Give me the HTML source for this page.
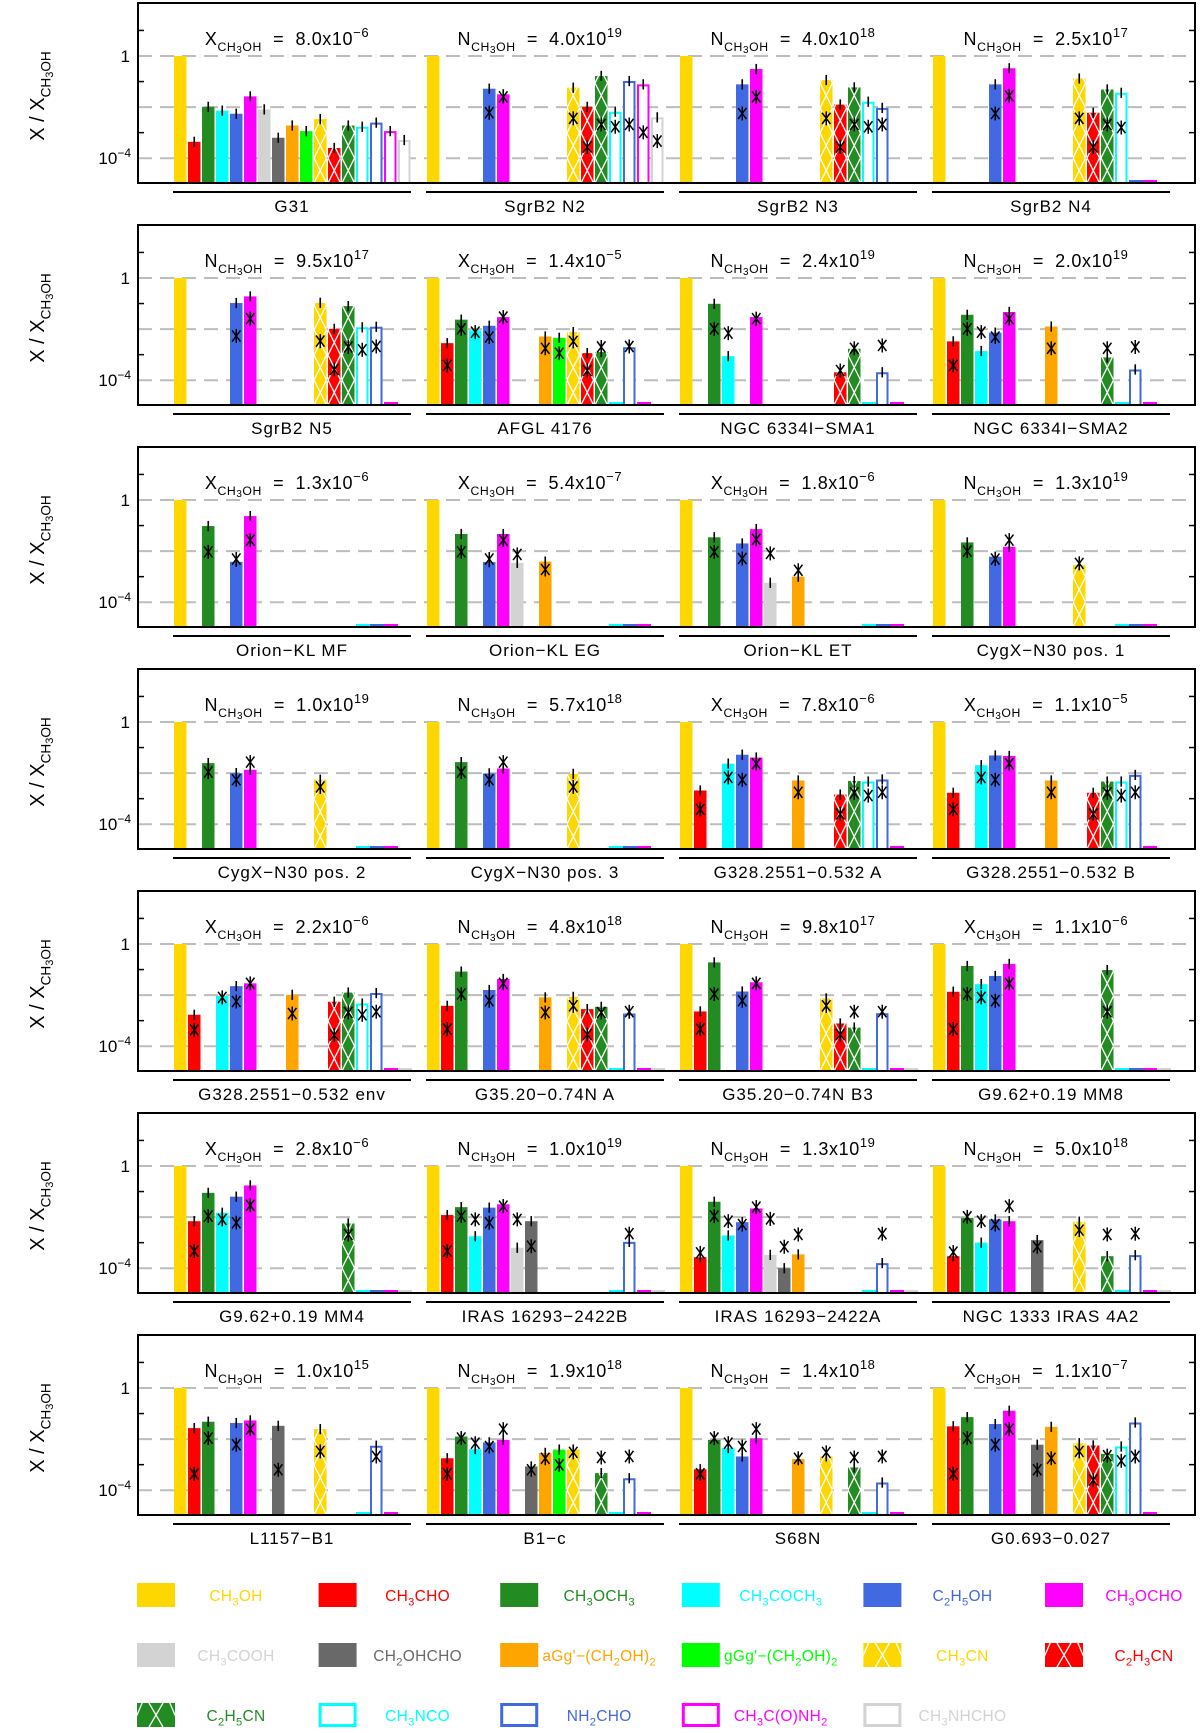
<!DOCTYPE html>
<html><head><meta charset="utf-8"><title>COM abundance ratios</title>
<style>
html,body{margin:0;padding:0;background:#fff;}
svg{display:block;font-family:"Liberation Sans",sans-serif;}
</style></head>
<body>
<svg id="chart" width="1200" height="1733" viewBox="0 0 1200 1733" xmlns="http://www.w3.org/2000/svg"></svg>
<script>
const N = null;
const species = ["CH_3OH","CH_3CHO","CH_3OCH_3","CH_3COCH_3","C_2H_5OH","CH_3OCHO","CH_3COOH","CH_2OHCHO","aGg'\u2212(CH_2OH)_2","gGg'\u2212(CH_2OH)_2","CH_3CN","C_2H_3CN","C_2H_5CN","CH_3NCO","NH_2CHO","CH_3C(O)NH_2","CH_3NHCHO"];
const speciesColor = ["#FFD700","#FF0000","#228B22","#00FFFF","#4169E1","#FF00FF","#D3D3D3","#696969","#FFA500","#00FF00","#FFD700","#FF0000","#228B22","#00FFFF","#4169E1","#FF00FF","#D3D3D3"];
const speciesKind = ["f","f","f","f","f","f","f","f","f","f","h","h","h","o","o","o","o"];
const panelNames = ["G31","SgrB2 N2","SgrB2 N3","SgrB2 N4","SgrB2 N5","AFGL 4176","NGC 6334I\u2212SMA1","NGC 6334I\u2212SMA2","Orion\u2212KL MF","Orion\u2212KL EG","Orion\u2212KL ET","CygX\u2212N30 pos. 1","CygX\u2212N30 pos. 2","CygX\u2212N30 pos. 3","G328.2551\u22120.532 A","G328.2551\u22120.532 B","G328.2551\u22120.532 env","G35.20\u22120.74N A","G35.20\u22120.74N B3","G9.62+0.19 MM8","G9.62+0.19 MM4","IRAS 16293\u22122422B","IRAS 16293\u22122422A","NGC 1333 IRAS 4A2","L1157\u2212B1","B1\u2212c","S68N","G0.693\u22120.027"];
const titleKind = ["X","N","N","N","N","X","N","N","X","X","X","N","N","N","X","X","X","N","N","X","X","N","N","N","N","N","N","X"];
const titleMantissa = ["8.0","4.0","4.0","2.5","9.5","1.4","2.4","2.0","1.3","5.4","1.8","1.3","1.0","5.7","7.8","1.1","2.2","4.8","9.8","1.1","2.8","1.0","1.3","5.0","1.0","1.9","1.4","1.1"];
const titleExp = ["\u22126","19","18","17","17","\u22125","19","19","\u22126","\u22127","\u22126","19","19","18","\u22126","\u22125","\u22126","18","17","\u22126","\u22126","19","19","18","15","18","18","\u22127"];
const yTickLabels = ["1","10","\u22124"];
const obs = [
[0,-3.36,-1.99,-2.14,-2.26,-1.58,-2.09,-3.2,-2.72,-2.94,-2.47,-3.6,-2.72,-2.77,-2.61,-2.94,-3.29],
[0,N,N,N,-1.28,-1.5,N,N,N,N,-1.24,-1.99,-0.78,-2.18,-0.98,-1.11,-2.4],
[0,N,N,N,-1.11,-0.51,N,N,N,N,-0.94,-1.9,-1.23,-1.79,-2.03,N,N],
[0,N,N,N,-1.11,-0.48,N,N,N,N,-0.88,-2.22,-1.31,-1.44,N,N,N],
[0,N,N,N,-0.98,-0.72,N,N,N,N,-0.97,-1.99,-1.1,-1.93,-1.91,N,N],
[0,-2.55,-1.63,-2.05,-1.87,-1.53,N,N,-2.29,-2.34,-2.12,-2.94,-2.9,N,-2.71,N,N],
[0,N,-1.01,-3.06,N,-1.53,N,N,N,N,N,-3.69,-2.77,N,-3.69,N,N],
[0,-2.48,-1.44,-2.86,-2.14,-1.33,N,N,-1.9,N,N,N,-3.11,N,-3.58,N,N],
[0,N,-1.02,N,-2.42,-0.63,N,N,N,N,N,N,N,N,N,N,N],
[0,N,-1.33,N,-2.43,-1.33,-2.46,N,-2.41,N,N,N,N,N,N,N,N],
[0,N,-1.46,N,-1.7,-1.14,-3.24,N,-3.0,N,N,N,N,N,N,N,N],
[0,N,-1.66,N,-2.22,-1.83,N,N,N,N,-2.55,N,N,N,N,N,N],
[0,N,-1.61,N,-2.0,-1.87,N,N,N,N,-2.26,N,N,N,N,N,N],
[0,N,-1.57,N,-2.01,-1.82,N,N,N,N,-2.03,N,N,N,N,N,N],
[0,-2.68,N,-1.63,-1.28,-1.39,N,N,-2.29,N,N,-2.84,-2.31,-2.33,-2.25,N,N],
[0,-2.77,N,-1.69,-1.31,-1.33,N,N,-2.29,N,N,-2.77,-2.33,-2.33,-2.07,N,N],
[0,-2.77,N,-2.03,-1.65,-1.54,N,N,-1.99,N,N,-2.26,-1.9,-2.33,-1.92,N,N],
[0,-2.42,-1.08,N,-1.8,-1.37,N,N,-2.09,N,-2.07,-2.55,-2.46,N,-2.72,N,N],
[0,-2.64,-0.72,N,-1.86,-1.5,N,N,N,N,-2.13,-3.11,-3.27,N,-2.71,N,N],
[0,-1.87,-0.86,-1.57,-1.25,-0.78,N,N,N,N,N,N,-1.02,N,N,N,N],
[0,-2.16,-1.05,-1.83,-1.2,-0.76,N,N,N,N,N,N,-2.25,N,N,N,N],
[0,-1.92,-1.61,-2.75,-1.63,-1.5,-3.2,-2.16,N,N,N,N,N,N,-2.97,N,N],
[0,-3.57,-1.4,-2.72,-2.2,-1.66,-3.48,-4.0,-3.46,N,N,N,N,N,-3.8,N,N],
[0,-3.53,-2.03,-3.0,-2.09,-2.16,N,-2.9,N,N,-2.18,N,-3.53,N,-3.49,N,N],
[0,-1.57,-1.32,N,-1.37,-1.27,N,-1.48,N,N,-1.61,N,N,N,-2.26,N,N],
[0,-2.75,-1.9,-2.39,-2.13,-2.03,N,-3.07,-2.54,-2.41,-2.41,N,-3.33,N,-3.53,N,N],
[0,-3.18,-2.03,-2.35,-2.68,-1.97,N,N,-2.78,N,-2.68,N,-3.11,N,-3.7,N,N],
[0,-1.5,-1.14,N,-1.41,-0.89,N,-2.22,-1.52,N,-2.16,-2.25,-2.58,-2.29,-1.35,N,N]
];
const model = [
[N,N,N,N,N,N,N,N,N,N,N,N,N,N,N,N,N],
[N,N,N,N,-2.22,-1.6,N,N,N,N,-2.44,-3.56,-2.68,-2.77,-2.68,-2.99,-3.33],
[N,N,N,N,-2.25,-1.6,N,N,N,N,-2.44,-3.56,-2.68,-2.77,-2.68,N,N],
[N,N,N,N,-2.25,-1.56,N,N,N,N,-2.44,-3.56,-2.68,-2.8,N,N,N],
[N,N,N,N,-2.27,-1.59,N,N,N,N,-2.47,-3.58,-2.7,-2.81,-2.68,N,N],
[N,-3.42,-1.99,-2.12,-2.31,-1.53,N,N,-2.75,-2.94,-2.48,-3.62,-2.7,N,-2.68,N,N],
[N,N,-1.99,-2.16,N,-1.59,N,N,N,N,N,-3.62,-2.75,N,-2.64,N,N],
[N,-3.42,-1.99,-2.12,-2.31,-1.59,N,N,-2.75,N,N,N,-2.75,N,-2.7,N,N],
[N,N,-2.03,N,-2.31,-1.57,N,N,N,N,N,N,N,N,N,N,N],
[N,N,-2.03,N,-2.31,-1.57,-2.13,N,-2.72,N,N,N,N,N,N,N,N],
[N,N,-2.03,N,-2.29,-1.54,-2.09,N,-2.75,N,N,N,N,N,N,N,N],
[N,N,-2.0,N,-2.31,-1.57,N,N,N,N,-2.48,N,N,N,N,N,N],
[N,N,-1.96,N,-2.26,-1.57,N,N,N,N,-2.54,N,N,N,N,N,N],
[N,N,-1.96,N,-2.26,-1.57,N,N,N,N,-2.54,N,N,N,N,N,N],
[N,-3.42,N,-2.17,-2.26,-1.63,N,N,-2.75,N,N,-3.6,-2.77,-2.88,-2.75,N,N],
[N,-3.42,N,-2.17,-2.26,-1.63,N,N,-2.75,N,N,-3.6,-2.77,-2.88,-2.75,N,N],
[N,-3.36,N,-2.09,-2.25,-1.54,N,N,-2.72,N,N,-3.56,-2.68,-2.77,-2.65,N,N],
[N,-3.33,-1.96,N,-2.22,-1.54,N,N,-2.68,N,-2.42,-3.54,-2.68,N,-2.65,N,N],
[N,-3.33,-1.96,N,-2.22,-1.54,N,N,N,N,-2.42,-3.54,-2.65,N,-2.65,N,N],
[N,-3.33,-1.96,-2.09,-2.22,-1.54,N,N,N,N,N,N,-2.65,N,N,N,N],
[N,-3.33,-1.96,-2.09,-2.22,-1.54,N,N,N,N,N,N,-2.68,N,N,N,N],
[N,-3.33,-1.96,-2.09,-2.22,-1.57,-2.09,-3.14,N,N,N,N,N,N,-2.65,N,N],
[N,-3.4,-1.96,-2.16,-2.29,-1.61,-2.07,-3.16,-2.68,N,N,N,N,N,-2.65,N,N],
[N,-3.37,-1.99,-2.16,-2.29,-1.57,N,-3.16,N,N,-2.51,N,-2.68,N,-2.65,N,N],
[N,-3.36,-1.96,N,-2.22,-1.61,N,-3.2,N,N,-2.48,N,N,N,-2.68,N,N],
[N,-3.36,-1.96,-2.16,-2.29,-1.61,N,-3.2,-2.75,-3.01,-2.52,N,-2.72,N,-2.68,N,N],
[N,-3.36,-1.96,-2.16,-2.29,-1.61,N,N,-2.75,N,-2.52,N,-2.72,N,-2.68,N,N],
[N,-3.36,-1.96,N,-2.22,-1.61,N,-3.2,-2.75,N,-2.48,-3.6,-2.65,-2.85,-2.68,N,N]
];
const stubs = [[],[],[],[14,15],[15],[13,15],[13,15],[13,15],[13,14,15],[13,14,15],[13,14,15],[13,14,15],[13,14,15],[13,14,15],[15],[15],[15,16],[13,15,16],[13,15,16],[13,14,15,16],[13,14,15,16],[13,15,16],[13,15,16],[13,15,16],[13,15],[13,15],[13,15],[15]];
const errDex = 0.2;

const NS = "http://www.w3.org/2000/svg";
const svg = document.getElementById("chart");
function mk(tag, attrs, parent){
  const e = document.createElementNS(NS, tag);
  for (const k in attrs) e.setAttribute(k, attrs[k]);
  (parent||svg).appendChild(e);
  return e;
}
const BOX_L = 138, BOX_R = 1195, ROW_PITCH = 222, DEC = 25.55;
function rowTop(r){ return 3 + ROW_PITCH*r; }
function yScale(r, v){ return rowTop(r) + 53 - DEC*v; }
function yBottom(r){ return rowTop(r) + 180; }
function panelX0(p){ return 174 + 253*p; }
function barX(p, i){ return panelX0(p) + 14*i; }
const BW = 12.5;

function richText(t, str, size){
  let i = 0, sub = false;
  while (i < str.length){
    let s = "", isSub = false;
    if (str[i] === "_"){ s = str[i+1]; isSub = true; i += 2; }
    else { while (i < str.length && str[i] !== "_"){ s += str[i]; i++; } }
    const ts = mk("tspan", {}, t);
    if (isSub && !sub){ ts.setAttribute("dy", size*0.3); ts.setAttribute("font-size", size*0.72); sub = true; }
    else if (!isSub && sub){ ts.setAttribute("dy", -size*0.3); sub = false; }
    else if (isSub){ ts.setAttribute("font-size", size*0.72); }
    ts.textContent = s;
  }
}
function subLabel(t, size, main){
  const a = mk("tspan", {}, t); a.textContent = main;
  const b = mk("tspan", {"font-size": size*0.68, dy: size*0.32}, t); b.textContent = "CH";
  const c = mk("tspan", {"font-size": size*0.55, dy: size*0.12}, t); c.textContent = "3";
  const d = mk("tspan", {"font-size": size*0.68, dy: -size*0.12}, t); d.textContent = "OH";
  return size*0.32;
}

const defs = mk("defs", {});

for (let r = 0; r < 7; r++){
  const top = rowTop(r);
  const row = mk("g", {});
  
  
  [0,-2,-4].forEach(v => {
    const gl = mk("line", {x1: BOX_L, x2: BOX_R, y1: yScale(r,v), y2: yScale(r,v), stroke: "#bdbdbd", "stroke-width": 2, "stroke-dasharray": "14,8"}, row);
    
    
  });
  [1,-1,-3].forEach(v => {
    mk("line", {x1: BOX_L, x2: BOX_L+6, y1: yScale(r,v), y2: yScale(r,v), stroke: "#000", "stroke-width": 1.5}, row);
    mk("line", {x1: BOX_R-6, x2: BOX_R, y1: yScale(r,v), y2: yScale(r,v), stroke: "#000", "stroke-width": 1.5}, row);
  });
  const t1 = mk("text", {x: 130, y: yScale(r,0)+6, "text-anchor": "end", "font-size": 17}, row);
  
  
  t1.textContent = yTickLabels[0];
  const t4 = mk("text", {x: 131, y: yScale(r,-4)+6, "text-anchor": "end", "font-size": 17}, row);
  
  
  const t4a = mk("tspan", {}, t4); t4a.textContent = yTickLabels[1];
  const t4b = mk("tspan", {dy: -7, "font-size": 12}, t4); t4b.textContent = yTickLabels[2];
  const yt = mk("text", {x: 0, y: 0, "font-size": 20, "text-anchor": "middle", transform: "translate(44," + (top+93) + ") rotate(-90)"}, row);
  
  
  subLabel(yt, 20, "X / X");

  for (let p = 0; p < 4; p++){
    const k = r*4 + p;
    const x0 = panelX0(p);
    const pg = mk("g", {}, row);
    
    
    for (let i = 0; i < 17; i++){
      const v = obs[k][i];
      if (v === null) continue;
      const x = barX(p, i), y = yScale(r, v), b = yBottom(r);
      const col = speciesColor[i], kind = speciesKind[i];
      let bar;
      if (kind === "o"){
        bar = mk("path", {d: "M"+(x+1)+" "+b+" V"+(y+1)+" H"+(x+BW-1)+" V"+b, fill: "#fff", stroke: col, "stroke-width": 2}, pg);
      } else {
        bar = mk("rect", {x: x, y: y, width: BW, height: b-y, fill: col}, pg);
      }
      
      
      if (kind === "h"){
        const cid = "c" + k + "_" + i;
        const cp = mk("clipPath", {id: cid}, defs);
        mk("rect", {x: x, y: y, width: BW, height: b-y}, cp);
        const hg = mk("g", {"clip-path": "url(#" + cid + ")"}, pg);
        for (let yy = b; yy > y - 2*BW; yy -= 2*BW){
          mk("line", {x1: x, y1: yy, x2: x+BW, y2: yy-2*BW, stroke: "#fff", "stroke-width": 1.3}, hg);
          mk("line", {x1: x+BW, y1: yy, x2: x, y2: yy-2*BW, stroke: "#fff", "stroke-width": 1.3}, hg);
        }
      }
      if (i > 0){
        const eb = mk("line", {x1: x+BW/2, x2: x+BW/2, y1: yScale(r, v+errDex), y2: yScale(r, v-errDex), stroke: "#000", "stroke-width": 1.6}, pg);
        
        
      }
    }
    stubs[k].forEach(i => {
      const st = mk("rect", {x: barX(p,i), y: yBottom(r)-3, width: BW+1.5, height: 3, fill: speciesColor[i]}, pg);
      
      
    });
    for (let i = 0; i < 17; i++){
      const m = model[k][i];
      if (m === null) continue;
      const cx = barX(p,i) + BW/2, cy = yScale(r, m), R = 7;
      const sg = mk("g", {stroke: "#000", "stroke-width": 1.5}, pg);
      
      
      mk("line", {x1: cx, x2: cx, y1: cy-R, y2: cy+R}, sg);
      mk("line", {x1: cx-R*0.6, x2: cx+R*0.6, y1: cy-R*0.8, y2: cy+R*0.8}, sg);
      mk("line", {x1: cx-R*0.6, x2: cx+R*0.6, y1: cy+R*0.8, y2: cy-R*0.8}, sg);
    }
    const tt = mk("text", {x: x0+113, y: top+42, "font-size": 18, "text-anchor": "middle", "letter-spacing": 0.6}, pg);
    
    
    const dsub = subLabel(tt, 18, titleKind[k]);
    const ta = mk("tspan", {dy: -dsub}, tt); ta.textContent = "  =  " + titleMantissa[k] + "x10";
    ta.setAttribute("xml:space", "preserve");
    tt.setAttribute("style", "white-space:pre");
    const tb = mk("tspan", {dy: -8, "font-size": 13}, tt); tb.textContent = titleExp[k];
    const ul = mk("line", {x1: x0-1, x2: x0+237, y1: top+189, y2: top+189, stroke: "#000", "stroke-width": 2}, pg);
    
    
    const lb = mk("text", {x: x0+118, y: top+209, "font-size": 17, "text-anchor": "middle", "letter-spacing": 1}, pg);
    
    
    lb.textContent = panelNames[k];
  }
  const bx = mk("rect", {x: BOX_L, y: top, width: BOX_R-BOX_L, height: 180, fill: "none", stroke: "#000", "stroke-width": 2}, row);
  
  
}

const lg = mk("g", {});


for (let i = 0; i < 17; i++){
  const c = i % 6, rr = Math.floor(i / 6);
  const x = 137 + 181.6*c, y = 1583 + 60*rr, w = 38, h = 24;
  const eg = mk("g", {}, lg);
  
  
  const col = speciesColor[i];
  if (speciesKind[i] === "o"){
    mk("rect", {x: x+1.5, y: y+1.5, width: w-3, height: h-3, fill: "#fff", stroke: col, "stroke-width": 3}, eg);
  } else {
    mk("rect", {x: x, y: y, width: w, height: h, fill: col}, eg);
    if (speciesKind[i] === "h"){
      const cid = "lc" + i;
      const cp = mk("clipPath", {id: cid}, defs);
      mk("rect", {x: x, y: y, width: w, height: h}, cp);
      const hg = mk("g", {"clip-path": "url(#" + cid + ")", stroke: "#fff", "stroke-width": 1.3}, eg);
      [[x+6,y-2,x-6,y+h+2],[x+12,y,x+26,y+h],[x+26,y,x+12,y+h],[x+32,y-2,x+44,y+h+2]].forEach(s=>{
        mk("line", {x1: s[0], y1: s[1], x2: s[2], y2: s[3]}, hg);
      });
    }
  }
  const t = mk("text", {x: x+99, y: y+18, "font-size": 15.5, fill: col, "text-anchor": "middle", "letter-spacing": 0.3}, eg);
  richText(t, species[i], 15.5);
}
</script>
</body></html>
